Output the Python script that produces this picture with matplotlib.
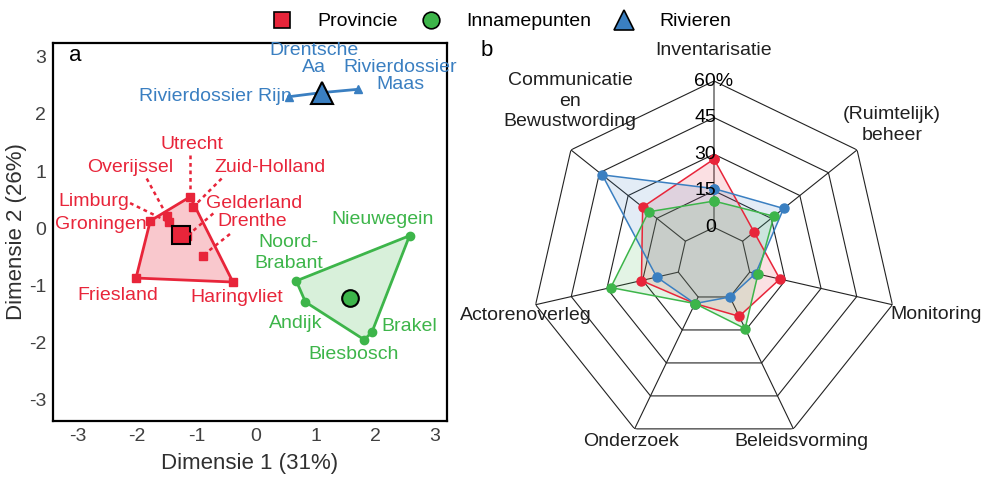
import numpy as np
import matplotlib
matplotlib.use("Agg")
import matplotlib.pyplot as plt
from matplotlib.lines import Line2D

plt.rcParams["font.family"] = ["Liberation Sans", "DejaVu Sans"]
plt.rcParams["axes.unicode_minus"] = False

RED = "#e8253a"
GREEN = "#3db54a"
BLUE = "#3a7fc1"

# panel a: ordination scores
prov_names = ["Utrecht", "Zuid-Holland", "Groningen", "Overijssel", "Limburg",
              "Gelderland", "Drenthe", "Friesland", "Haringvliet"]
prov_x = [-1.11, -1.06, -1.78, -1.50, -1.46, -1.155, -0.90, -2.02, -0.39]
prov_y = [0.55, 0.37, 0.13, 0.22, 0.105, -0.13, -0.48, -0.87, -0.94]

inname_names = ["Nieuwegein", "Noord-\nBrabant", "Andijk", "Brakel", "Biesbosch"]
inname_x = [2.58, 0.675, 0.83, 1.95, 1.82]
inname_y = [-0.13, -0.92, -1.29, -1.81, -1.95]

rivier_names = ["Rivierdossier Rijn", "Drentsche\nAa", "Rivierdossier\nMaas"]
rivier_x = [0.545, 1.08, 1.71]
rivier_y = [2.30, 2.37, 2.43]

# panel b: radar values (%)
categories = ["Inventarisatie", "(Ruimtelijk)\nbeheer", "Monitoring", "Beleidsvorming",
              "Onderzoek", "Actorenoverleg", "Communicatie\nen\nBewustwording"]
radar_prov = [28, 6, 12.7, 8.8, 3, 15.5, 22.4]
radar_inname = [10.8, 16.4, 3.5, 14.4, 3, 28.4, 19.3]
radar_rivier = [15.9, 21.5, 2.5, 0, 3, 9.1, 43.6]
rings = [0, 15, 30, 45, 60]
ring_labels = ["0", "15", "30", "45", "60%"]


def hull(xs, ys):
    pts = sorted(zip(xs, ys))
    def cross(o, a, b):
        return (a[0]-o[0])*(b[1]-o[1]) - (a[1]-o[1])*(b[0]-o[0])
    lower, upper = [], []
    for p in pts:
        while len(lower) >= 2 and cross(lower[-2], lower[-1], p) <= 0:
            lower.pop()
        lower.append(p)
    for p in reversed(pts):
        while len(upper) >= 2 and cross(upper[-2], upper[-1], p) <= 0:
            upper.pop()
        upper.append(p)
    h = lower[:-1] + upper[:-1]
    h.append(h[0])
    return np.array(h)


fig = plt.figure(figsize=(9.84, 4.8), dpi=100)

# ---------------- panel a
ax = fig.add_axes([53/984, 1-421/480, 394/984, 378/480])
ax.set_xlim(-3.416, 3.21)
ax.set_ylim(-3.37, 3.24)

h = hull(prov_x, prov_y)
ax.fill(h[:, 0], h[:, 1], color=RED, alpha=0.25, lw=0)
ax.plot(h[:, 0], h[:, 1], color=RED, lw=2)
ax.plot(prov_x, prov_y, "s", color=RED, ms=6)
ax.plot(np.mean(prov_x), np.mean(prov_y), "s", color=RED, mec="k", mew=1.5, ms=13)

h = hull(inname_x, inname_y)
ax.fill(h[:, 0], h[:, 1], color=GREEN, alpha=0.2, lw=0)
ax.plot(h[:, 0], h[:, 1], color=GREEN, lw=2)
ax.plot(inname_x, inname_y, "o", color=GREEN, ms=6)
ax.plot(np.mean(inname_x), np.mean(inname_y), "o", color=GREEN, mec="k", mew=1.5, ms=12)

ax.plot(rivier_x, rivier_y, "-^", color=BLUE, lw=2, ms=6)
ax.plot(np.mean(rivier_x), np.mean(rivier_y), "^", color=BLUE, mec="k", mew=1.5, ms=16)

# labels with dashed leaders for the crowded provinces
prov_lbl = {
    "Utrecht": (-1.08, 1.46, None),
    "Zuid-Holland": (0.23, 1.06, (-0.58, 0.87)),
    "Overijssel": (-2.11, 1.06, (-1.84, 0.87)),
    "Limburg": (-2.73, 0.465, (-2.12, 0.44)),
    "Gelderland": (-0.03, 0.44, (-0.72, 0.26)),
    "Groningen": (-2.61, 0.06, None),
    "Drenthe": (-0.07, 0.11, (-0.44, -0.10)),
    "Friesland": (-2.32, -1.18, None),
    "Haringvliet": (-0.32, -1.21, None),
}
for name, px, py in zip(prov_names, prov_x, prov_y):
    lx, ly, lead = prov_lbl[name]
    ax.text(lx, ly, name, color=RED, fontsize=14, ha="center", va="center")
    if name == "Utrecht":
        ax.plot([px, px], [1.28, py], ls=(0, (1.5, 1.5)), color=RED, lw=1.8)
    elif lead is not None:
        ax.plot([lead[0], px], [lead[1], py], ls=(0, (1.5, 1.5)), color=RED, lw=1.8)

inname_lbl = [(2.13, 0.16), (0.545, -0.43), (0.66, -1.66), (2.58, -1.72), (1.64, -2.21)]
for name, (lx, ly) in zip(inname_names, inname_lbl):
    ax.text(lx, ly, name, color=GREEN, fontsize=14, ha="center", va="center",
            linespacing=1.35)

ax.text(0.60, 2.30, rivier_names[0], color=BLUE, fontsize=14, ha="right", va="center")
ax.text(0.97, 2.96, rivier_names[1], color=BLUE, fontsize=14, ha="center", va="center",
        linespacing=1.0)
ax.text(2.43, 2.67, rivier_names[2], color=BLUE, fontsize=14, ha="center", va="center",
        linespacing=1.0)

ax.text(-3.05, 3.03, "a", fontsize=16, ha="center", va="center")

ax.set_xticks(range(-3, 4))
ax.set_yticks(range(-3, 4))
ax.tick_params(length=0, labelsize=14, labelcolor="#404040", pad=5)
for s in ax.spines.values():
    s.set_linewidth(1.6)
ax.set_xlabel("Dimensie 1 (31%)", fontsize=16, color="#303030", labelpad=6)
ax.set_ylabel("Dimensie 2 (26%)", fontsize=16, color="#303030", labelpad=1)

# ---------------- panel b (radar)
axr = fig.add_axes([531/984, 33/480, 366/984, 366/480], projection="polar")
axr.set_theta_zero_location("N")
axr.set_theta_direction(-1)
axr.set_ylim(-15, 60)
axr.grid(False)
axr.set_xticks([])
axr.set_yticks([])
axr.spines["polar"].set_visible(False)
axr.patch.set_alpha(0)

n = len(categories)
theta = np.linspace(0, 2*np.pi, n, endpoint=False)
tc = np.append(theta, theta[0])

for r in rings:
    axr.plot(tc, [r]*(n+1), color="#222222", lw=0.8, zorder=1)
for i, t in enumerate(theta):
    axr.plot([t, t], [0, 60], color="#888888" if i == 0 else "#222222",
             lw=1.4 if i == 0 else 0.8, zorder=1)

for vals, c in [(radar_prov, RED), (radar_rivier, BLUE), (radar_inname, GREEN)]:
    v = np.append(vals, vals[0])
    axr.fill(tc, v, color=c, alpha=0.14, lw=0, zorder=2)
for vals, c in [(radar_prov, RED), (radar_rivier, BLUE), (radar_inname, GREEN)]:
    v = np.append(vals, vals[0])
    axr.plot(tc, v, "-o", color=c, lw=1.1, ms=6.5, zorder=3)

for r, lab in zip(rings, ring_labels):
    if lab.endswith("%"):
        axr.text(0, r, lab, fontsize=14, ha="center", va="center", zorder=4)
    else:
        axr.annotate(lab, (0, r), xytext=(2, 0), textcoords="offset pixels",
                     fontsize=14, ha="right", va="center", zorder=4)

cat_pos = [(0, 72.3), (52, 77.5), (102.9, 78.6), (153.7, 66.1),
           (205.2, 65.2), (254.8, 64.8), (318.5, 74.1)]
for lab, (deg, r) in zip(categories, cat_pos):
    axr.text(np.deg2rad(deg), r, lab, fontsize=14, ha="center", va="center",
             color="#202020", linespacing=1.25, clip_on=False)

fig.text(487/984, 1-50/480, "b", fontsize=16, ha="center", va="center")

# ---------------- legend
handles = [
    Line2D([], [], marker="s", color=RED, mec="k", mew=1.2, ls="none", ms=12),
    Line2D([], [], marker="o", color=GREEN, mec="k", mew=1.2, ls="none", ms=12),
    Line2D([], [], marker="^", color=BLUE, mec="k", mew=1.2, ls="none", ms=14),
]
fig.legend(handles, ["Provincie", "Innamepunten", "Rivieren"], loc="center",
           bbox_to_anchor=(0.505, 0.955), ncol=3, frameon=False, fontsize=14,
           columnspacing=0.7)

fig.savefig("out.png", dpi=100)
